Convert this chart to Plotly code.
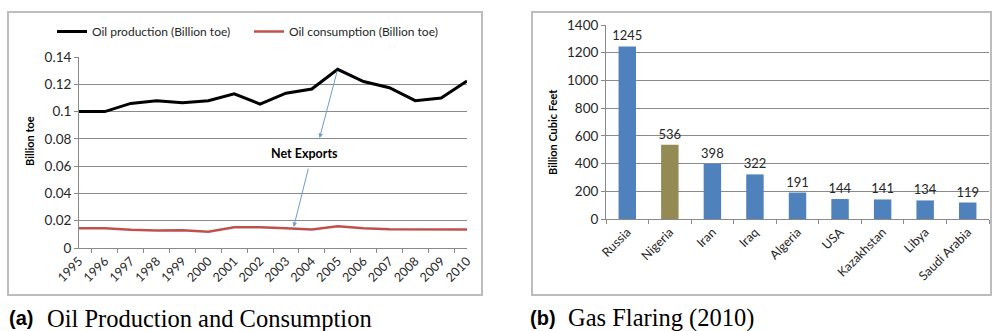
import plotly.graph_objects as go

# --- data -------------------------------------------------------------
years = [str(y) for y in range(1995, 2011)]
oil_production = [0.100, 0.100, 0.106, 0.108, 0.1065, 0.108, 0.113, 0.1055,
                  0.1135, 0.1165, 0.131, 0.122, 0.1175, 0.108, 0.110, 0.1225]
oil_consumption = [0.0145, 0.0145, 0.0133, 0.0128, 0.013, 0.012, 0.0152, 0.0152,
                   0.0145, 0.0135, 0.016, 0.0145, 0.0137, 0.0137, 0.0137, 0.0135]

countries = ["Russia", "Nigeria", "Iran", "Iraq", "Algeria", "USA",
             "Kazakhstan", "Libya", "Saudi Arabia"]
flaring = [1245, 536, 398, 322, 191, 144, 141, 134, 119]

# --- page geometry helpers (pixel -> paper) ---------------------------
W, H = 992, 331
def px(x):
    return x / W
def py(y):
    return 1 - y / H

FONT = "Lato"
TXT = "#262626"
GRID = "#8a8a8a"
BLUE = "#4f81bd"
OLIVE = "#948a54"

bar_colors = [OLIVE if c == "Nigeria" else BLUE for c in countries]

fig = go.Figure()

fig.add_trace(go.Scatter(
    x=years, y=oil_production, mode="lines", name="Oil production (Billion toe)",
    line=dict(color="#000000", width=3), xaxis="x", yaxis="y"))
fig.add_trace(go.Scatter(
    x=years, y=oil_consumption, mode="lines", name="Oil consumption (Billion toe)",
    line=dict(color="#c0504d", width=2.5), xaxis="x", yaxis="y"))

fig.add_trace(go.Bar(
    x=countries, y=flaring, marker=dict(color=bar_colors, line=dict(width=0)),
    width=0.41, text=flaring, texttemplate="%{text}", textposition="outside",
    textfont=dict(family=FONT, size=13, color=TXT), cliponaxis=False,
    constraintext="none", showlegend=False, xaxis="x2", yaxis="y2"))

def axis_style(size, grid=False):
    return dict(
        showline=True, linecolor=GRID, linewidth=1,
        ticks="outside", tickcolor=GRID, ticklen=4,
        tickfont=dict(family=FONT, size=size, color=TXT),
        showgrid=grid, gridcolor=GRID, gridwidth=1,
        zeroline=False, fixedrange=True, automargin=False)

fig.update_layout(
    width=W, height=H, margin=dict(l=0, r=0, t=0, b=0),
    paper_bgcolor="white", plot_bgcolor="white",
    font=dict(family=FONT, color=TXT),
    xaxis=dict(domain=[px(79), px(467)], anchor="y", type="category",
               tickson="boundaries", tickangle=-45, **axis_style(12.5)),
    yaxis=dict(domain=[py(248), py(57)], anchor="x", range=[0, 0.14],
               tick0=0, dtick=0.02, **axis_style(13.5, True)),
    xaxis2=dict(domain=[px(606), px(989)], anchor="y2", type="category",
                tickson="boundaries", tickangle=-45, **axis_style(12.5)),
    yaxis2=dict(domain=[py(219), py(25)], anchor="x2", range=[0, 1400],
                tick0=0, dtick=200, **axis_style(13.5, True)),
    legend=dict(orientation="h", x=px(52), y=py(17), xanchor="left", yanchor="top",
                font=dict(family=FONT, size=12, color=TXT),
                bgcolor="rgba(0,0,0,0)", itemwidth=30,
                entrywidth=152, entrywidthmode="pixels"),
)

# panel frames
for x0, x1 in [(8, 482), (532, 991)]:
    fig.add_shape(type="rect", xref="paper", yref="paper",
                  x0=px(x0), x1=px(x1), y0=py(295), y1=py(12),
                  line=dict(color="#bdbdbd", width=2), fillcolor="rgba(0,0,0,0)",
                  layer="below")

# axis titles
fig.add_annotation(text="<b>Billion toe</b>", xref="paper", yref="paper",
                   x=px(29), y=py(141), xanchor="center", yanchor="middle",
                   textangle=-90, showarrow=False,
                   font=dict(family=FONT, size=11, color="#000"))
fig.add_annotation(text="<b>Billion Cubic Feet</b>", xref="paper", yref="paper",
                   x=px(552), y=py(132), xanchor="center", yanchor="middle",
                   textangle=-90, showarrow=False,
                   font=dict(family=FONT, size=11, color="#000"))

# net exports label with arrows
fig.add_annotation(text="<b>Net Exports</b>", xref="x", yref="y",
                   x=8.7, y=0.0696, showarrow=False,
                   font=dict(family=FONT, size=12.5, color="#000"))
ARROW = "#6e9bd2"
i05 = years.index("2005")
fig.add_annotation(xref="x", yref="y", axref="x", ayref="y",
                   x=9.3, y=0.0806, ax=i05, ay=oil_production[i05],
                   showarrow=True, arrowhead=2, arrowsize=0.9, arrowwidth=1,
                   arrowcolor=ARROW, text="")
fig.add_annotation(xref="x", yref="y", axref="x", ayref="y",
                   x=8.3, y=0.0154, ax=8.88, ay=0.0593,
                   showarrow=True, arrowhead=2, arrowsize=0.9, arrowwidth=1,
                   arrowcolor=ARROW, text="")

# sub-captions
CAP_Y = py(318)
fig.add_annotation(text="<b>(a)</b>", xref="paper", yref="paper", x=px(7), y=CAP_Y,
                   xanchor="left", yanchor="middle", showarrow=False,
                   font=dict(family="Liberation Sans", size=20, color="#000"))
fig.add_annotation(text="Oil Production and Consumption", xref="paper", yref="paper",
                   x=px(45), y=CAP_Y, xanchor="left", yanchor="middle", showarrow=False,
                   font=dict(family="Liberation Serif", size=24.5, color="#000"))
fig.add_annotation(text="<b>(b)</b>", xref="paper", yref="paper", x=px(528), y=CAP_Y,
                   xanchor="left", yanchor="middle", showarrow=False,
                   font=dict(family="Liberation Sans", size=20, color="#000"))
fig.add_annotation(text="Gas Flaring (2010)", xref="paper", yref="paper",
                   x=px(566), y=CAP_Y, xanchor="left", yanchor="middle", showarrow=False,
                   font=dict(family="Liberation Serif", size=24.5, color="#000"))

fig.write_html("out.html")
